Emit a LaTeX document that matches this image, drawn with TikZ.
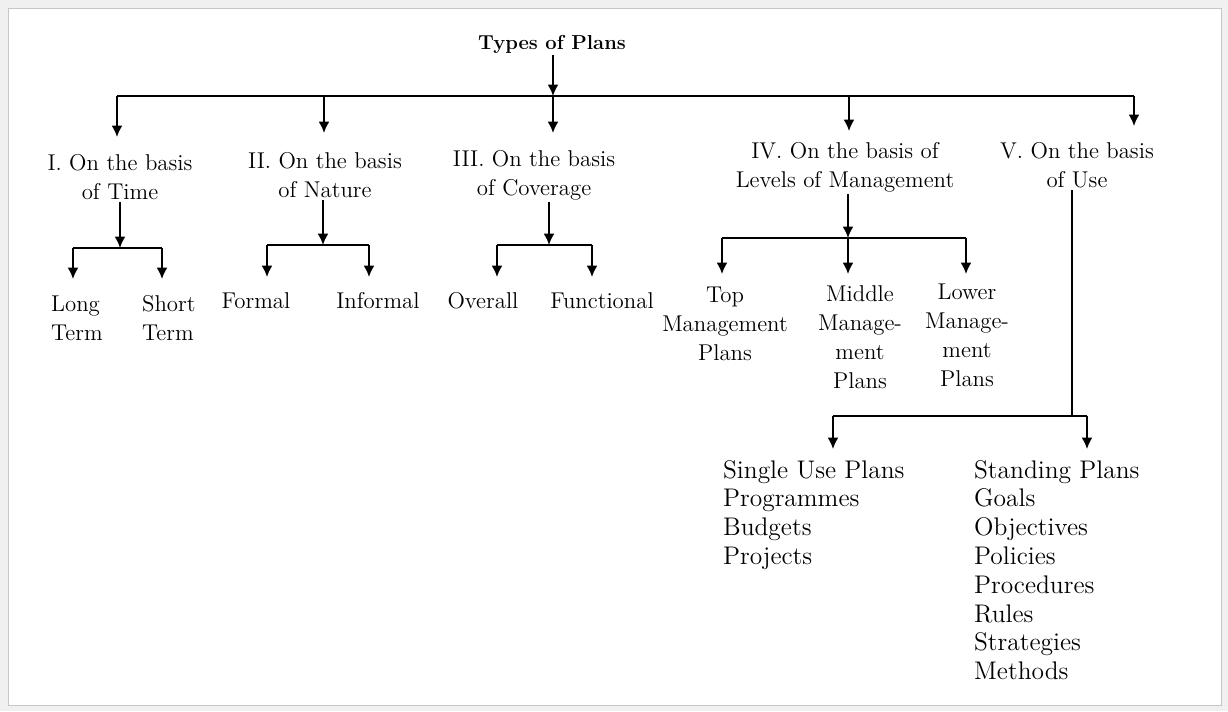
\documentclass[tikz,border=0pt]{standalone}
\usepackage{tikz}
\usetikzlibrary{arrows.meta}
\usetikzlibrary{positioning}

\begin{document}
\begin{tikzpicture}[x=0.02cm,y=-0.02cm]
			\tikzset{plan/.style = {align=center, inner sep=1pt,
					font=\fontsize{13}{16.5}\selectfont}}
			\tikzset{planlist/.style = {plan, align=left, anchor=north west,
					font=\fontsize{14.5}{16.4}\selectfont}}
			\tikzset{edge/.style = {->,> = {Latex[length=0.23cm,width=0.22cm]}, line width=1pt}}
			\tikzset{bar/.style = {line width=1pt}}

		% frame
		\useasboundingbox (0,0) rectangle (1228,711);
		\fill[gray!12] (0,0) rectangle (1228,711);
		\draw[gray!45, fill=white] (8,8) rectangle (1221,705);

		% vertices
		\node[plan, font=\fontsize{11.5}{14}\selectfont\bfseries] (types) at (552,44) {Types of Plans};

		\node[plan] (time) at (120,177) {I. On the basis\\of Time};
		\node[plan] (nature) at (325,175) {II. On the basis\\of Nature};
		\node[plan] (coverage) at (534,175) {III. On the basis\\of Coverage};
		\node[plan] (levels) at (845,167) {IV. On the basis of\\Levels of Management};
		\node[plan] (use) at (1077,165) {V. On the basis\\of Use};

		\node[plan, align=left, anchor=west] (long) at (49,318) {Long\\Term};
		\node[plan, align=left, anchor=west] (short) at (140,318) {Short\\Term};
		\node[plan] (formal) at (256,301) {Formal};
		\node[plan] (informal) at (378,301) {Informal};
		\node[plan] (overall) at (483,301) {Overall};
		\node[plan] (functional) at (602,301) {Functional};

		\node[plan] (top) at (725,324) {Top\\Management\\Plans};
		\node[plan] (middle) at (860,337) {Middle\\Manage-\\ment\\Plans};
		\node[plan] (lower) at (967,335) {Lower\\Manage-\\ment\\Plans};

		\node[planlist] (single) at (721,458) {Single Use Plans\\Programmes\\Budgets\\Projects};
		\node[planlist] (standing) at (972,458) {Standing Plans\\Goals\\Objectives\\Policies\\Procedures\\Rules\\Strategies\\Methods};

		% junctions
		\coordinate (hub) at (553,96);
		\coordinate (hubL) at (117,96);
		\coordinate (hubR) at (1134,96);
		\coordinate (tJ) at (120,248);
		\coordinate (nJ) at (323,245);
		\coordinate (cJ) at (549,245);
		\coordinate (lJ) at (848,238);
		\coordinate (uJ) at (1072,416);

		% edges
		\draw[edge] (types.south -| hub) -- (hub);
		\draw[bar] (hubL) -- (hubR);
		\draw[edge] (hubL) -- (117,137);
		\draw[edge] (324,96) -- (324,133);
		\draw[edge] (hub) -- (553,133);
		\draw[edge] (849,96) -- (849,131);
		\draw[edge] (hubR) -- (1134,126);

		\draw[edge] (time.south -| tJ) -- (tJ);
		\draw[bar] (73,248) -- (162,248);
		\draw[edge] (73,248) -- (73,279);
		\draw[edge] (162,248) -- (162,279);

		\draw[edge] (nature.south -| nJ) -- (nJ);
		\draw[bar] (267,245) -- (369,245);
		\draw[edge] (267,245) -- (267,277);
		\draw[edge] (369,245) -- (369,277);

		\draw[edge] (coverage.south -| cJ) -- (cJ);
		\draw[bar] (497,245) -- (592,245);
		\draw[edge] (497,245) -- (497,277);
		\draw[edge] (592,245) -- (592,277);

		\draw[edge] (levels.south -| lJ) -- (lJ);
		\draw[bar] (722,238) -- (966,238);
		\draw[edge] (722,238) -- (722,274);
		\draw[edge] (lJ) -- (848,274);
		\draw[edge] (966,238) -- (966,274);

		\draw[bar] (use.south -| uJ) -- (uJ);
		\draw[bar] (833,416) -- (1087,416);
		\draw[edge] (833,416) -- (833,449);
		\draw[edge] (1087,416) -- (1087,449);

\end{tikzpicture}
\end{document}
